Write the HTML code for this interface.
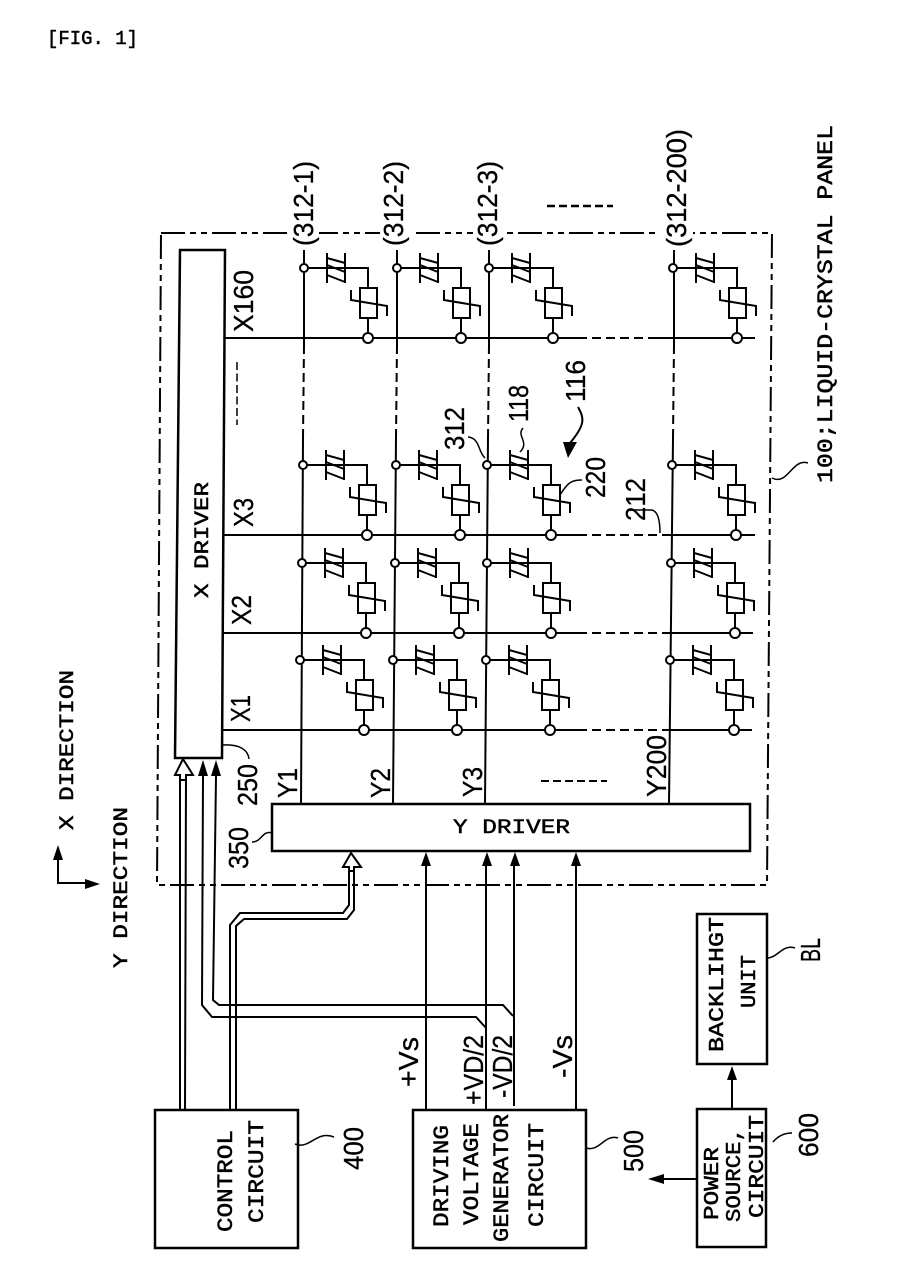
<!DOCTYPE html>
<html><head><meta charset="utf-8"><style>
html,body{margin:0;padding:0;background:#fff}
svg{display:block}
.m{font-family:"Liberation Mono",monospace;fill:#000;stroke:#000;stroke-width:.5}
.s{font-family:"Liberation Sans",sans-serif;fill:#000;stroke:#000;stroke-width:.3;font-size:28px}
</style></head><body>
<svg width="912" height="1284" viewBox="0 0 912 1284" xmlns="http://www.w3.org/2000/svg">
<defs>
<g id="cell" fill="none" stroke="#000" stroke-width="2">
<path d="M3.5 0H64V20M23 -15V15M41 -15V15M23 -10L41 -5M23 -3L41 4M23 7L41 14M64 50V65"/>
<rect x="56" y="20" width="17" height="30" fill="#fff"/>
<path d="M47 22V32L83 38V48"/>
<circle cx="0" cy="0" r="4" fill="#fff"/>
<circle cx="64" cy="70" r="5" fill="#fff"/>
</g>
</defs>
<rect width="912" height="1284" fill="#fff"/>

<!-- panel -->
<path d="M161 233H772L767 885H157Z" fill="none" stroke="#000" stroke-width="2" stroke-dasharray="24 5 6 5 6 5"/>
<g fill="#fff"><rect x="288" y="228" width="31" height="10"/><rect x="380" y="228" width="33" height="10"/><rect x="473" y="228" width="29" height="10"/><rect x="660" y="228" width="33" height="10"/></g>

<!-- X lines -->
<g stroke="#000" stroke-width="2" fill="none">
<path d="M225 338H578M655 338H755"/><path d="M578 338H655" stroke-dasharray="9 5"/>
<path d="M224 535H578M671 535H755"/><path d="M578 535H671" stroke-dasharray="9 5"/>
<path d="M223 633H578M670 633H753"/><path d="M578 633H670" stroke-dasharray="9 5"/>
<path d="M222 730H578M669 730H752"/><path d="M578 730H669" stroke-dasharray="9 5"/>
<!-- Y lines -->
<path d="M304 250V345M397 250V345M489 250V345M674 250V345"/>
<path d="M304 345L303 438M397 345L396 438M489 345L488 438M674 345L673 438" stroke-dasharray="9 5"/>
<path d="M303 438L301 804M396 438L393 804M488 438L485 804M673 438L669 804"/>
</g>

<!-- cells -->
<use href="#cell" x="304" y="268"/><use href="#cell" x="397" y="268"/><use href="#cell" x="489" y="268"/><use href="#cell" x="673" y="268"/>
<use href="#cell" x="303" y="465"/><use href="#cell" x="396" y="465"/><use href="#cell" x="487" y="465"/><use href="#cell" x="672" y="465"/>
<use href="#cell" x="302" y="563"/><use href="#cell" x="395" y="563"/><use href="#cell" x="487" y="563"/><use href="#cell" x="671" y="563"/>
<use href="#cell" x="300" y="660"/><use href="#cell" x="393" y="660"/><use href="#cell" x="486" y="660"/><use href="#cell" x="670" y="660"/>

<!-- drivers and boxes -->
<g fill="#fff" stroke="#000" stroke-width="2.5">
<path d="M180 250H225L222 758H175Z"/>
<rect x="272" y="804" width="478" height="47"/>
<rect x="155" y="1110" width="143" height="138"/>
<rect x="413" y="1110" width="173" height="138"/>
<rect x="697" y="1109" width="69" height="138"/>
<rect x="697" y="914" width="70" height="150"/>
</g>

<!-- connectors -->
<g fill="none" stroke="#000" stroke-width="2">
<path d="M180 775V1110M186 775L185 1110"/>
<path d="M203 776L202 1005L212 1017H476L486 1028"/>
<path d="M216 776L213 1000L219 1005H503L513 1016"/>
<path d="M230 1110V925L240 913H343L349 905V867"/>
<path d="M236 1110V926L244 919H347L354 910V867"/>
<path d="M426 865V1110M486 865V1110M514 865V1106M576 865V1110"/>
<path d="M732 1078V1109M664 1179H697"/>
<path d="M58 858V883H88"/>
<path d="M578 407C584 418 586 424 570 443"/>
<path d="M223 745C240 744 248 750 249 759" stroke-width="1.5"/>
<path d="M272 833C262 830 262 842 252 842" stroke-width="1.5"/>
<path d="M295 1144C310 1150 316 1130 334 1137" stroke-width="1.5"/>
<path d="M586 1148C600 1152 604 1134 618 1138" stroke-width="1.5"/>
<path d="M773 1142C778 1136 785 1133 792 1133" stroke-width="1.5"/>
<path d="M767 958C778 958 782 944 795 948" stroke-width="1.5"/>
<path d="M772 478C788 486 792 458 808 463" stroke-width="1.5"/>
<path d="M523 428C516 436 530 442 520 452" stroke-width="1.5"/>
<path d="M468 437C480 438 478 452 485 458" stroke-width="1.5"/>
<path d="M560 495C568 482 572 480 582 480" stroke-width="1.5"/>
<path d="M632 510H652Q660 512 660 533" stroke-width="1.5"/>
<path d="M547 206H613" stroke-width="2.5" stroke-dasharray="8 4"/>
<path d="M541 781H607" stroke-width="2" stroke-dasharray="8 4"/>
<path d="M237 362V425" stroke-width="1.5" stroke-dasharray="8 3.5"/>
</g>

<!-- arrowheads -->
<g fill="#000">
<path d="M203 760L208 776H198Z"/><path d="M216 760L221 776H211Z"/>
<path d="M426 852L431 866H421Z"/><path d="M487 852L492 866H482Z"/><path d="M515 852L520 866H510Z"/><path d="M576 852L581 866H571Z"/>
<path d="M732 1066L737 1080H727Z"/><path d="M648 1179L664 1174V1184Z"/>
<path d="M58 845L63 860H53Z"/><path d="M100 884L85 879V889Z"/>
<path d="M568 458L563 442H577Z"/>
</g>
<g fill="#fff" stroke="#000" stroke-width="2">
<path d="M183 759L193 775H186V780H180V775H175Z"/>
<path d="M351 853L361 867H354V871H349V867H343Z"/>
</g>

<!-- mono labels -->
<g class="m">
<text x="47" y="44" font-size="19" textLength="91" lengthAdjust="spacingAndGlyphs">[FIG. 1]</text>
<text x="453" y="833" font-size="20" textLength="117" lengthAdjust="spacingAndGlyphs">Y DRIVER</text>
<text transform="translate(73 830) rotate(-90)" font-size="20" textLength="160" lengthAdjust="spacingAndGlyphs">X DIRECTION</text>
<text transform="translate(127 968) rotate(-90)" font-size="20" textLength="161" lengthAdjust="spacingAndGlyphs">Y DIRECTION</text>
<text transform="translate(208 598) rotate(-90)" font-size="20" textLength="116" lengthAdjust="spacingAndGlyphs">X DRIVER</text>
<text transform="translate(232 1232) rotate(-90)" font-size="22" textLength="102" lengthAdjust="spacingAndGlyphs">CONTROL</text>
<text transform="translate(263 1223) rotate(-90)" font-size="22" textLength="103" lengthAdjust="spacingAndGlyphs">CIRCUIT</text>
<text transform="translate(448 1227) rotate(-90)" font-size="22" textLength="102" lengthAdjust="spacingAndGlyphs">DRIVING</text>
<text transform="translate(478 1225) rotate(-90)" font-size="22" textLength="102" lengthAdjust="spacingAndGlyphs">VOLTAGE</text>
<text transform="translate(508 1242) rotate(-90)" font-size="22" textLength="128" lengthAdjust="spacingAndGlyphs">GENERATOR</text>
<text transform="translate(543 1227) rotate(-90)" font-size="22" textLength="104" lengthAdjust="spacingAndGlyphs">CIRCUIT</text>
<text transform="translate(723 1052) rotate(-90)" font-size="21" textLength="135" lengthAdjust="spacingAndGlyphs">BACKLIHGT</text>
<text transform="translate(755 1008) rotate(-90)" font-size="21" textLength="53" lengthAdjust="spacingAndGlyphs">UNIT</text>
<text transform="translate(718 1220) rotate(-90)" font-size="21" textLength="73" lengthAdjust="spacingAndGlyphs">POWER</text>
<text transform="translate(740 1222) rotate(-90)" font-size="21" textLength="94" lengthAdjust="spacingAndGlyphs">SOURCE,</text>
<text transform="translate(763 1218) rotate(-90)" font-size="21" textLength="103" lengthAdjust="spacingAndGlyphs">CIRCUIT</text>
<text transform="translate(832 483) rotate(-90)" font-size="22" textLength="358" lengthAdjust="spacingAndGlyphs">100;LIQUID-CRYSTAL PANEL</text>
</g>

<!-- sans labels -->
<g class="s">
<text transform="translate(313 246) rotate(-90)" textLength="85" lengthAdjust="spacingAndGlyphs">(312-1)</text>
<text transform="translate(403 246) rotate(-90)" textLength="85" lengthAdjust="spacingAndGlyphs">(312-2)</text>
<text transform="translate(497 246) rotate(-90)" textLength="85" lengthAdjust="spacingAndGlyphs">(312-3)</text>
<text transform="translate(686 247) rotate(-90)" textLength="118" lengthAdjust="spacingAndGlyphs">(312-200)</text>
<text transform="translate(253 332) rotate(-90)" textLength="62" lengthAdjust="spacingAndGlyphs">X160</text>
<text transform="translate(253 527) rotate(-90)" textLength="29" lengthAdjust="spacingAndGlyphs">X3</text>
<text transform="translate(251 625) rotate(-90)" textLength="30" lengthAdjust="spacingAndGlyphs">X2</text>
<text transform="translate(250 722) rotate(-90)" textLength="27" lengthAdjust="spacingAndGlyphs">X1</text>
<text transform="translate(297 798) rotate(-90)" textLength="30" lengthAdjust="spacingAndGlyphs">Y1</text>
<text transform="translate(390 798) rotate(-90)" textLength="30" lengthAdjust="spacingAndGlyphs">Y2</text>
<text transform="translate(482 797) rotate(-90)" textLength="30" lengthAdjust="spacingAndGlyphs">Y3</text>
<text transform="translate(666 797) rotate(-90)" textLength="62" lengthAdjust="spacingAndGlyphs">Y200</text>
<text transform="translate(257 806) rotate(-90)" textLength="42" lengthAdjust="spacingAndGlyphs">250</text>
<text transform="translate(248 869) rotate(-90)" textLength="42" lengthAdjust="spacingAndGlyphs">350</text>
<text transform="translate(363 1170) rotate(-90)" textLength="43" lengthAdjust="spacingAndGlyphs">400</text>
<text transform="translate(643 1172) rotate(-90)" textLength="42" lengthAdjust="spacingAndGlyphs">500</text>
<text transform="translate(818 1157) rotate(-90)" textLength="44" lengthAdjust="spacingAndGlyphs">600</text>
<text transform="translate(820 962) rotate(-90)" textLength="24" lengthAdjust="spacingAndGlyphs">BL</text>
<text transform="translate(418 1087) rotate(-90)" textLength="50" lengthAdjust="spacingAndGlyphs">+Vs</text>
<text transform="translate(483 1105) rotate(-90)" textLength="70" lengthAdjust="spacingAndGlyphs">+VD/2</text>
<text transform="translate(512 1098) rotate(-90)" textLength="63" lengthAdjust="spacingAndGlyphs">-VD/2</text>
<text transform="translate(572 1078) rotate(-90)" textLength="43" lengthAdjust="spacingAndGlyphs">-Vs</text>
<text transform="translate(585 402) rotate(-90)" textLength="42" lengthAdjust="spacingAndGlyphs">116</text>
<text transform="translate(528 422) rotate(-90)" textLength="37" lengthAdjust="spacingAndGlyphs">118</text>
<text transform="translate(464 450) rotate(-90)" textLength="43" lengthAdjust="spacingAndGlyphs">312</text>
<text transform="translate(605 498) rotate(-90)" textLength="41" lengthAdjust="spacingAndGlyphs">220</text>
<text transform="translate(645 521) rotate(-90)" textLength="43" lengthAdjust="spacingAndGlyphs">212</text>
</g>
</svg>
</body></html>
